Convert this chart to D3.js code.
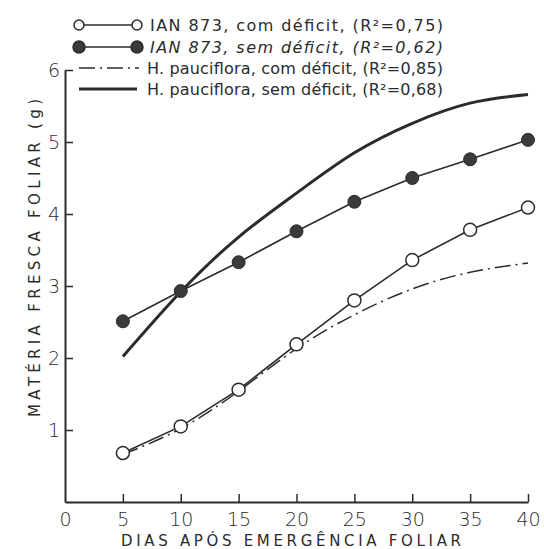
<!DOCTYPE html>
<html>
<head>
<meta charset="utf-8">
<script src="https://cdn.jsdelivr.net/npm/d3@7"></script>
<style>
  body { margin: 0; background: #fff; }
  svg { display: block; font-family: "DejaVu Sans", "Liberation Sans", sans-serif; }
</style>
</head>
<body>
<svg id="chart" width="544" height="549"></svg>
<script>
// days after leaf emergence
const days = [5, 10, 15, 20, 25, 30, 35, 40];

// IAN 873 (observed points)
const ianCom = [0.68, 1.05, 1.56, 2.19, 2.80, 3.36, 3.78, 4.09];
const ianSem = [2.51, 2.93, 3.33, 3.76, 4.17, 4.50, 4.76, 5.03];

// H. pauciflora (fitted curves)
const paucCom = [0.66, 1.02, 1.54, 2.13, 2.60, 2.96, 3.19, 3.32];
const paucSem = [2.02, 2.92, 3.68, 4.29, 4.85, 5.26, 5.54, 5.66];

const xTicks = [0, 5, 10, 15, 20, 25, 30, 35, 40];
const yTicks = [1, 2, 3, 4, 5, 6];

const legendLabels = [
  'IAN 873, com déficit, (R²=0,75)',
  'IAN 873, sem déficit, (R²=0,62)',
  'H. pauciflora, com déficit, (R²=0,85)',
  'H. pauciflora, sem déficit, (R²=0,68)'
];

const ink = '#2b2b2b';
const svg = d3.select('#chart');

const x = d3.scaleLinear().domain([0, 40]).range([65, 528]);
const y = d3.scaleLinear().domain([0, 6]).range([502, 70]);

// Axes (inward ticks)
const xAxis = svg.append('g')
  .attr('transform', `translate(0, ${y(0)})`)
  .call(d3.axisBottom(x).tickValues(xTicks).tickFormat(d3.format('d'))
    .tickSizeInner(-8).tickSizeOuter(0).tickPadding(11));
const yAxis = svg.append('g')
  .attr('transform', `translate(${x(0)}, 0)`)
  .call(d3.axisLeft(y).tickValues(yTicks).tickFormat(d3.format('d'))
    .tickSizeInner(-8).tickSizeOuter(0).tickPadding(5));

[xAxis, yAxis].forEach(g => {
  g.select('.domain').attr('stroke', ink).attr('stroke-width', 2);
  g.selectAll('.tick line').attr('stroke', ink).attr('stroke-width', 1.5);
  g.selectAll('.tick text')
    .attr('fill', ink)
    .style('font-size', '19px')
    .style('font-family', '"DejaVu Sans", sans-serif')
    .style('font-weight', '300');
});
xAxis.select('.tick line').remove();

// Axis titles
svg.append('text')
  .attr('x', 291)
  .attr('y', 546)
  .attr('text-anchor', 'middle')
  .attr('fill', ink)
  .attr('textLength', 340)
  .attr('lengthAdjust', 'spacing')
  .style('font-size', '15px')
  .text('DIAS  APÓS  EMERGÊNCIA  FOLIAR');

svg.append('text')
  .attr('transform', 'translate(40, 258) rotate(-90)')
  .attr('text-anchor', 'middle')
  .attr('fill', ink)
  .attr('textLength', 318)
  .attr('lengthAdjust', 'spacing')
  .style('font-size', '15px')
  .text('MATÉRIA  FRESCA  FOLIAR  (g)');

// Series
const straight = d3.line().x((d, i) => x(days[i])).y(d => y(d));
const smooth = d3.line().x((d, i) => x(days[i])).y(d => y(d)).curve(d3.curveNatural);

svg.append('path').datum(paucSem)
  .attr('fill', 'none').attr('stroke', ink).attr('stroke-width', 3)
  .attr('d', smooth);

svg.append('path').datum(paucCom)
  .attr('fill', 'none').attr('stroke', ink).attr('stroke-width', 1.5)
  .attr('stroke-dasharray', '16,5,2,5')
  .attr('d', smooth);

svg.append('path').datum(ianSem)
  .attr('fill', 'none').attr('stroke', ink).attr('stroke-width', 1.6)
  .attr('d', straight);

svg.append('path').datum(ianCom)
  .attr('fill', 'none').attr('stroke', ink).attr('stroke-width', 1.6)
  .attr('d', straight);

svg.selectAll('.dot-sem')
  .data(ianSem)
  .enter()
  .append('circle')
  .attr('cx', (d, i) => x(days[i]))
  .attr('cy', d => y(d))
  .attr('r', 6.5)
  .attr('fill', '#3a3a3a')
  .attr('stroke', ink);

svg.selectAll('.dot-com')
  .data(ianCom)
  .enter()
  .append('circle')
  .attr('cx', (d, i) => x(days[i]))
  .attr('cy', d => y(d))
  .attr('r', 6.5)
  .attr('fill', '#fff')
  .attr('stroke', ink)
  .attr('stroke-width', 1.5);

// Legend
const legend = svg.append('g');
const rowY = [25, 47, 68, 89];
const textStart = [150, 150, 147, 147];
const textEnd = 443;

legendLabels.forEach((label, i) => {
  const ly = rowY[i];
  const line = legend.append('line')
    .attr('x1', 79).attr('x2', 137)
    .attr('y1', ly).attr('y2', ly)
    .attr('stroke', ink)
    .attr('stroke-width', i === 3 ? 3 : 1.6);
  if (i === 2) line.attr('stroke-dasharray', '16,5,2,5').attr('x2', 139);
  if (i < 2) {
    [79, 137].forEach(cx => {
      legend.append('circle')
        .attr('cx', cx).attr('cy', ly).attr('r', i === 0 ? 5 : 6)
        .attr('fill', i === 0 ? '#fff' : '#3a3a3a')
        .attr('stroke', ink).attr('stroke-width', 1.5);
    });
  }
  legend.append('text')
    .attr('x', textStart[i])
    .attr('y', ly + 6)
    .attr('fill', ink)
    .attr('textLength', textEnd - textStart[i])
    .attr('lengthAdjust', 'spacing')
    .style('font-size', '16px')
    .style('font-style', i === 1 ? 'italic' : 'normal')
    .text(label);
});
</script>
</body>
</html>
